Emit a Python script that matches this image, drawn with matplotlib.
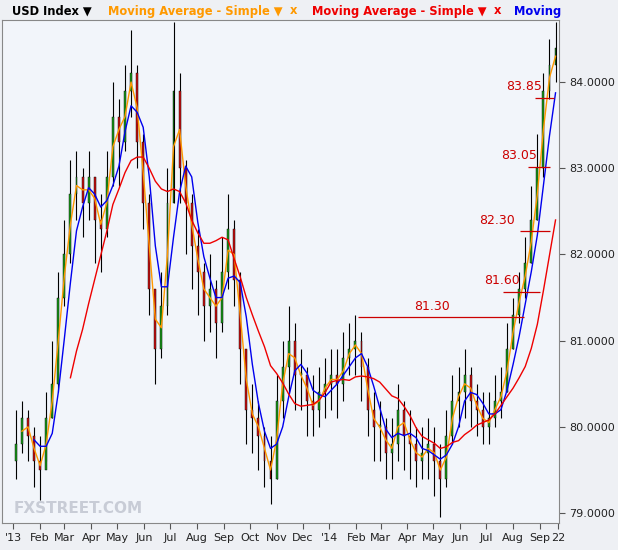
import matplotlib
matplotlib.use("Agg")
import matplotlib.pyplot as plt
import numpy as np
import pandas as pd

start = "2013-01-04"
closes = [79.8,80.1,79.9,79.6,79.5,80.1,80.5,81.5,82.0,82.7,
          82.9,82.6,82.9,82.4,82.3,82.9,83.6,83.3,83.9,84.1,
          83.3,82.6,81.6,80.9,81.4,82.6,83.9,83.0,82.6,82.1,
          81.8,81.4,81.6,81.2,81.8,82.3,81.7,80.9,80.2,80.1,
          79.9,79.6,79.4,80.3,80.7,81.0,80.6,80.6,80.3,80.2,
          80.4,80.5,80.6,80.5,80.8,80.9,81.0,80.7,80.2,80.0,
          80.0,79.7,79.8,80.2,79.9,79.8,79.6,79.7,79.8,79.6,
          79.4,79.9,80.3,80.4,80.6,80.3,80.2,80.0,80.1,80.3,
          80.4,80.9,81.3,81.6,81.9,82.4,83.0,83.9,84.2,84.4]
highs = [80.2,80.3,80.2,80.0,79.9,80.4,81.0,81.8,82.4,83.1,
         83.2,83.0,83.2,82.9,82.7,83.2,84.0,83.8,84.2,84.6,
         84.2,83.4,82.7,81.6,81.8,83.0,84.7,84.1,83.1,82.7,
         82.3,81.9,82.0,81.7,82.2,82.7,82.4,81.8,80.9,80.5,
         80.3,80.0,79.9,80.6,81.0,81.4,81.2,80.9,80.7,80.6,
         80.7,80.8,80.9,80.9,81.1,81.2,81.3,81.1,80.8,80.4,
         80.3,80.1,80.1,80.5,80.3,80.2,80.0,80.0,80.1,80.0,
         79.8,80.2,80.6,80.7,80.9,80.7,80.5,80.4,80.4,80.6,
         80.7,81.2,81.5,81.8,82.2,82.8,83.4,84.1,84.5,84.7]
lows = [79.4,79.7,79.6,79.3,79.15,79.6,80.1,80.4,81.4,81.9,
        82.4,82.2,82.4,81.9,81.8,82.2,82.8,82.8,83.2,83.6,
        83.0,82.3,81.3,80.5,80.8,81.3,82.6,82.6,82.0,81.6,
        81.3,81.0,81.1,80.8,81.1,81.6,81.4,80.5,79.8,79.7,
        79.5,79.3,79.1,79.4,80.1,80.4,80.2,80.2,79.9,79.9,
        80.0,80.1,80.2,80.1,80.3,80.6,80.6,80.3,79.9,79.6,
        79.6,79.4,79.4,79.6,79.5,79.4,79.3,79.4,79.4,79.2,
        78.95,79.3,79.8,80.0,80.1,80.0,79.9,79.8,79.8,80.0,
        80.1,80.4,80.9,81.2,81.5,81.9,82.4,82.9,83.8,84.0]
levels = [81.30, 81.60, 82.30, 83.05, 83.85]
level_spans = [("2014-02-03", "2014-08-14"), ("2014-07-20", "2014-09-01"),
               ("2014-08-09", "2014-09-13"), ("2014-08-18", "2014-09-13"),
               ("2014-08-26", "2014-09-17")]
label_dates = ["2014-04-29", "2014-07-19", "2014-07-14", "2014-08-08", "2014-08-14"]

dates = pd.date_range(start, periods=len(closes), freq="7D")
s = pd.Series(closes, index=dates)
opens = [closes[0] - 0.2] + closes[:-1]

fig = plt.figure(figsize=(6.18, 5.5), dpi=100, facecolor="#eef0f4")
ax = fig.add_axes([2/618, 27/550, 557/618, 503/550])
ax.set_facecolor("#f2f5fa")
ax.set_xlim(pd.Timestamp("2012-12-19"), pd.Timestamp("2014-09-23"))
ax.set_ylim(78.885, 84.72)

w = 2.2
for d, o, h, l, c in zip(dates, opens, highs, lows, closes):
    ax.vlines(d, l, h, color="black", lw=0.8, zorder=2)
    col = "#1a9a1a" if c >= o else "#cc1111"
    ax.bar(d, abs(c - o) or 0.02, bottom=min(o, c), width=w, color=col,
           edgecolor="black", lw=0.3, zorder=3)

ax.plot(s.rolling(2).mean(), color="#ff9900", lw=1, zorder=4)
ax.plot(s.rolling(4).mean(), color="#0000ee", lw=1, zorder=4)
ax.plot(s.rolling(10).mean(), color="#ee0000", lw=1, zorder=4)

for lv, (a, b), ld in zip(levels, level_spans, label_dates):
    ax.hlines(lv - 0.03, pd.Timestamp(a), pd.Timestamp(b), color="#cc0000", lw=0.9, zorder=5)
    ax.text(pd.Timestamp(ld), lv + 0.02, f"{lv:.2f}", color="#cc0000", fontsize=9,
            ha="center", va="bottom", zorder=6)

ax.yaxis.tick_right()
ax.set_yticks([79, 80, 81, 82, 83, 84])
ax.set_yticklabels([f"{v:.4f}" for v in [79, 80, 81, 82, 83, 84]], fontsize=8)
ticks = [pd.Timestamp("2013-01-01")] + list(pd.date_range("2013-02-01", "2014-09-01", freq="MS")) + [pd.Timestamp("2014-09-22")]
labs = []
for t in ticks:
    if t == pd.Timestamp("2014-09-22"):
        labs.append("22")
    elif t.month == 1:
        labs.append("'" + t.strftime("%y"))
    else:
        labs.append(t.strftime("%b"))
ax.set_xticks(ticks)
ax.set_xticklabels(labs, fontsize=8)
ax.tick_params(length=4, color="#555555", labelcolor="#222222")
for sp in ax.spines.values():
    sp.set_color("#888888")
ax.text(0.02, 0.02, "FXSTREET.COM", transform=ax.transAxes, fontsize=11,
        color="#c8ccd6", fontweight="bold")

fs = 8.3
fig.text(12/618, 1 - 11/550, "USD Index \u25bc", fontsize=fs, fontweight="bold", color="black", va="center")
fig.text(108/618, 1 - 11/550, "Moving Average - Simple \u25bc", fontsize=fs, fontweight="bold", color="#ff9900", va="center")
fig.text(290/618, 1 - 11/550, "x", fontsize=fs, fontweight="bold", color="#ff9900", va="center")
fig.text(312/618, 1 - 11/550, "Moving Average - Simple \u25bc", fontsize=fs, fontweight="bold", color="#ee0000", va="center")
fig.text(494/618, 1 - 11/550, "x", fontsize=fs, fontweight="bold", color="#ee0000", va="center")
fig.text(514/618, 1 - 11/550, "Moving", fontsize=fs, fontweight="bold", color="#0000ee", va="center")

fig.savefig("out.png", dpi=100, facecolor=fig.get_facecolor())
